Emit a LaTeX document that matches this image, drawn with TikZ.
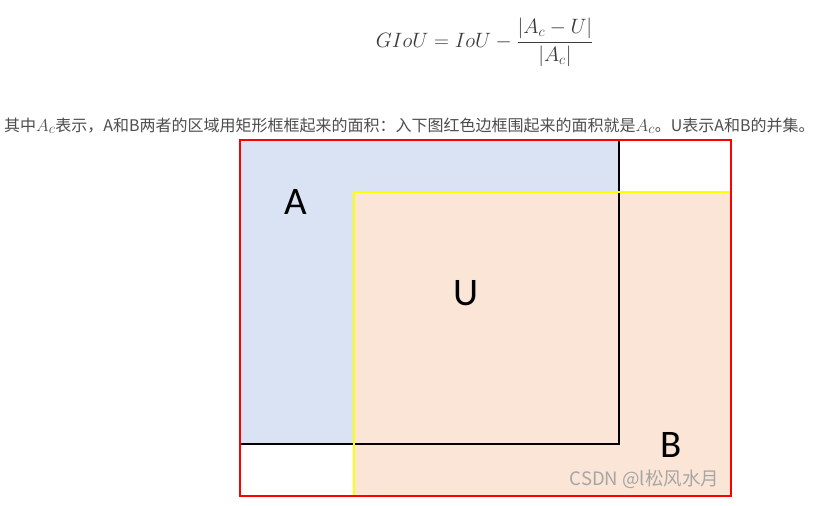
\documentclass[tikz,border=0pt]{standalone}
\usepackage{fontspec}
\newfontfamily\cjk{Noto Sans CJK SC}
\newfontfamily\carlito{Carlito}
\definecolor{afill}{HTML}{DAE3F3}
\definecolor{bfill}{HTML}{FBE5D6}
\definecolor{txtgray}{HTML}{4D4D4D}
\definecolor{mathgray}{HTML}{3A3A3A}
\definecolor{wmgray}{HTML}{A6A6A6}
\definecolor{yel}{HTML}{FFFF00}
\newcommand{\bigAc}{{\fontsize{19}{19}\selectfont$A_c$}}
\tikzset{
  biglabel/.style={font=\carlito\fontsize{39}{39}\selectfont, text=black, inner sep=0pt},
  edge/.style={line width=2pt}
}
\begin{document}
\begin{tikzpicture}[x=1pt,y=-1pt]
\useasboundingbox[fill=white] (0,0) rectangle (814,506);
% formula
\node[inner sep=0pt, text=mathgray, font=\fontsize{20.7}{25}\selectfont] (formula) at (484.7,42)
  {$\displaystyle GIoU = IoU - \frac{|A_c - U|}{|A_c|}$};
% description line
\node[inner sep=0pt, anchor=base west, text=txtgray, font=\cjk\fontsize{16}{18}\selectfont] (desc) at (4,131)
  {其中\bigAc 表示，A和B两者的区域用矩形框框起来的面积：入下图红色边框围起来的面积就是\bigAc。U表示A和B的并集。};
% rectangles
\coordinate (Atl) at (240,140);
\coordinate (Abr) at (619,444);
\coordinate (Btl) at (354,192);
\coordinate (Bbr) at (731,496);
\fill[afill] (Atl) rectangle (Abr);
\fill[bfill] (Btl) rectangle (Bbr);
\draw[edge, black] (619,140) -- (Abr) -- (240,444);
\draw[edge, yel] (Btl) rectangle (Bbr);
\draw[edge, red] (Atl) rectangle (Bbr);
% labels
\node[biglabel] (la) at (296,202) {A};
\node[biglabel] (lu) at (466,293) {U};
\node[biglabel] (lb) at (671,445) {B};
\node[inner sep=0pt, text=wmgray, font=\cjk\fontsize{18.5}{20}\selectfont] (wm) at (644.5,479.5) {CSDN @l松风水月};
\end{tikzpicture}
\end{document}
